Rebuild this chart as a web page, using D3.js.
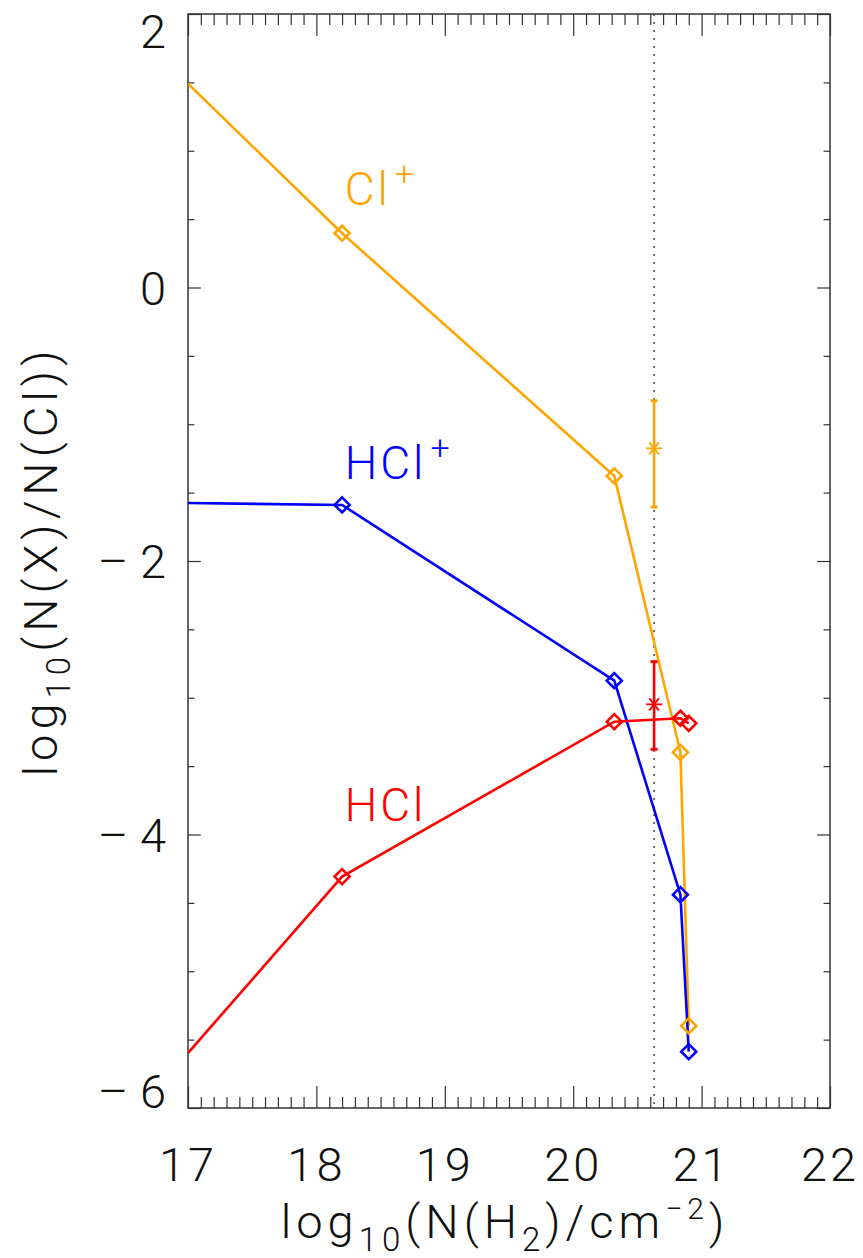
<!DOCTYPE html>
<html>
<head>
<meta charset="utf-8">
<script src="https://cdn.jsdelivr.net/npm/d3@7/dist/d3.min.js"></script>
<style>
  html, body { margin: 0; padding: 0; background: #fff; }
  svg text { font-family: Roboto, "Liberation Sans", sans-serif; font-weight: 300; }
</style>
</head>
<body>
<svg id="chart" width="863" height="1258"></svg>
<script>
// Column density grid of the model, log10 N(H2) [cm^-2]
const logNH2 = [17.0, 18.2, 20.32, 20.835, 20.9];

// Model abundance ratios log10 N(X)/N(Cl)
const clPlus  = [1.49, 0.397, -1.378, -3.399, -5.40];
const hclPlus = [-1.576, -1.590, -2.875, -4.44, -5.588];
const hcl     = [-5.598, -4.308, -3.175, -3.150, -3.187];

// Observed values at the sight-line column density
const obsNH2 = 20.63;
const obsClPlus = { value: -1.176, lo: -1.605, hi: -0.828 };
const obsHCl    = { value: -3.048, lo: -3.377, hi: -2.736 };

const xTickValues = [17, 18, 19, 20, 21, 22];
const yTickValues = [2, 0, -2, -4, -6];

const seriesList = [
  { name: "Cl", sup: "+", values: clPlus,  color: "#ffa500", labelAt: [18.22, 0.6] },
  { name: "HCl", sup: "+", values: hclPlus, color: "#0000ff", labelAt: [18.22, -1.4] },
  { name: "HCl", sup: "",  values: hcl,     color: "#ff0000", labelAt: [18.22, -3.9] }
];

const margin = { left: 188, right: 33, top: 14, bottom: 150 };
const W = 863, H = 1258;
const innerW = W - margin.left - margin.right;
const innerH = H - margin.top - margin.bottom;

const svg = d3.select("#chart");
const g = svg.append("g").attr("transform", `translate(${margin.left},${margin.top})`);

const x = d3.scaleLinear().domain([17, 22]).range([0, innerW]);
const y = d3.scaleLinear().domain([-6, 2]).range([innerH, 0]);

svg.append("defs").append("clipPath").attr("id", "plotClip")
  .append("rect").attr("width", innerW).attr("height", innerH);

const axisColor = "#333";
const xMajorLen = innerH * 0.02, xMinorLen = xMajorLen / 2;
const yMajorLen = innerW * 0.02, yMinorLen = yMajorLen / 2;

const xMinor = d3.range(170, 221).map(v => v / 10).filter(v => !xTickValues.includes(v));
const yMinor = d3.range(-12, 5).map(v => v / 2).filter(v => !yTickValues.includes(v));

function styleAxis(sel) {
  sel.select(".domain").remove();
  sel.selectAll(".tick line").attr("stroke", axisColor).attr("stroke-width", 1.2);
  sel.selectAll(".tick text").remove();
}

// bottom / top ticks pointing inward
g.append("g").attr("transform", `translate(0,${innerH})`)
  .call(d3.axisBottom(x).tickValues(xTickValues).tickSize(-xMajorLen)).call(styleAxis);
g.append("g").attr("transform", `translate(0,${innerH})`)
  .call(d3.axisBottom(x).tickValues(xMinor).tickSize(-xMinorLen)).call(styleAxis);
g.append("g")
  .call(d3.axisTop(x).tickValues(xTickValues).tickSize(-xMajorLen)).call(styleAxis);
g.append("g")
  .call(d3.axisTop(x).tickValues(xMinor).tickSize(-xMinorLen)).call(styleAxis);
// left / right ticks pointing inward
g.append("g")
  .call(d3.axisLeft(y).tickValues(yTickValues).tickSize(-yMajorLen)).call(styleAxis);
g.append("g")
  .call(d3.axisLeft(y).tickValues(yMinor).tickSize(-yMinorLen)).call(styleAxis);
g.append("g").attr("transform", `translate(${innerW},0)`)
  .call(d3.axisRight(y).tickValues(yTickValues).tickSize(-yMajorLen)).call(styleAxis);
g.append("g").attr("transform", `translate(${innerW},0)`)
  .call(d3.axisRight(y).tickValues(yMinor).tickSize(-yMinorLen)).call(styleAxis);

// frame
g.append("rect").attr("width", innerW).attr("height", innerH)
  .attr("fill", "none").attr("stroke", axisColor).attr("stroke-width", 1.5);

// tick labels
const fs = 47;
g.selectAll(".xlab").data(xTickValues).join("text")
  .attr("x", d => x(d)).attr("y", innerH + 73)
  .attr("text-anchor", "middle").attr("font-size", fs).attr("fill", "#111")
  .attr("letter-spacing", 3)
  .text(d => d);
g.selectAll(".ylab").data(yTickValues).join("text")
  .attr("x", -22)
  .attr("y", d => Math.min(Math.max(y(d), 17), innerH - 17) + 17)
  .attr("text-anchor", "end").attr("font-size", fs).attr("fill", "#111")
  .text(d => d < 0 ? "\u2013 " + Math.abs(d) : d);

// axis titles
const xt = svg.append("text").attr("x", 505).attr("y", 1238)
  .attr("text-anchor", "middle").attr("font-size", fs).attr("fill", "#111")
  .attr("letter-spacing", 5);
xt.append("tspan").text("log");
xt.append("tspan").attr("font-size", 33).attr("dy", 13).text("10");
xt.append("tspan").attr("dy", -13).text("(N(H");
xt.append("tspan").attr("font-size", 33).attr("dy", 13).text("2");
xt.append("tspan").attr("dy", -13).text(")/cm");
xt.append("tspan").attr("font-size", 30).attr("dy", -19).text("\u22122");
xt.append("tspan").attr("dy", 19).text(")");

const yt = svg.append("text")
  .attr("transform", `translate(57,${margin.top + y(-2)}) rotate(-90)`)
  .attr("text-anchor", "middle").attr("font-size", fs).attr("fill", "#111")
  .attr("letter-spacing", 5);
yt.append("tspan").text("log");
yt.append("tspan").attr("font-size", 33).attr("dy", 13).text("10");
yt.append("tspan").attr("dy", -13).text("(N(X)/N(Cl))");

// observation marker line
g.append("line")
  .attr("x1", x(obsNH2)).attr("x2", x(obsNH2))
  .attr("y1", 0).attr("y2", innerH)
  .attr("stroke", "#444").attr("stroke-width", 1.5).attr("stroke-dasharray", "2,6");

const plot = g.append("g").attr("clip-path", "url(#plotClip)");
const line = d3.line().x((d, i) => x(logNH2[i])).y(d => y(d));

seriesList.forEach(s => {
  plot.append("path").datum(s.values)
    .attr("d", line).attr("fill", "none")
    .attr("stroke", s.color).attr("stroke-width", 2.6);
});

// diamond symbols at model points inside the frame
const dr = 7.5;
seriesList.forEach(s => {
  plot.selectAll(null).data(s.values.map((v, i) => [logNH2[i], v]).filter(d => d[0] > 17))
    .join("path")
    .attr("transform", d => `translate(${x(d[0])},${y(d[1])})`)
    .attr("d", `M0,${-dr}L${dr},0L0,${dr}L${-dr},0Z`)
    .attr("fill", "none").attr("stroke", s.color).attr("stroke-width", 2.6);
});

// series labels
seriesList.forEach(s => {
  const t = g.append("text")
    .attr("x", x(s.labelAt[0])).attr("y", y(s.labelAt[1]))
    .attr("font-size", 46).attr("fill", s.color).attr("letter-spacing", 3);
  t.append("tspan").text(s.name);
  if (s.sup) t.append("tspan").attr("font-size", 34).attr("dx", 4).attr("dy", -20).text(s.sup);
});

// observed points with error bars and asterisks
function drawObs(o, color) {
  const cx = x(obsNH2);
  g.append("line").attr("x1", cx).attr("x2", cx)
    .attr("y1", y(o.lo)).attr("y2", y(o.hi))
    .attr("stroke", color).attr("stroke-width", 2.6);
  [o.lo, o.hi].forEach(v => {
    g.append("line").attr("x1", cx - 3.5).attr("x2", cx + 3.5)
      .attr("y1", y(v)).attr("y2", y(v))
      .attr("stroke", color).attr("stroke-width", 3);
  });
  const cy = y(o.value), r = 8;
  const star = [[-r, 0, r, 0], [0, -r, 0, r], [-r * 0.6, -r * 0.75, r * 0.6, r * 0.75], [-r * 0.6, r * 0.75, r * 0.6, -r * 0.75]];
  star.forEach(l => {
    g.append("line").attr("x1", cx + l[0]).attr("y1", cy + l[1])
      .attr("x2", cx + l[2]).attr("y2", cy + l[3])
      .attr("stroke", color).attr("stroke-width", 1.8);
  });
}
drawObs(obsClPlus, "#ffa500");
drawObs(obsHCl, "#ff0000");
</script>
</body>
</html>
